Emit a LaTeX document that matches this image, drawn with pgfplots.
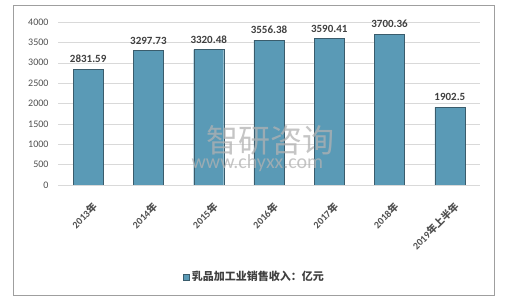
\documentclass[border=0pt]{standalone}
\usepackage{pgfplots}
\pgfplotsset{compat=1.18}
\usepackage{fontspec}
\setmainfont{Carlito}
\newfontfamily\cjk{Noto Sans CJK SC}
\definecolor{barA}{RGB}{90,154,182}
\definecolor{barE}{RGB}{58,92,108}
\definecolor{txt}{RGB}{64,64,64}
\definecolor{tick}{RGB}{80,80,80}
\begin{document}
\begin{tikzpicture}
\useasboundingbox (0pt,0pt) rectangle (520pt,302pt);
\fill[white] (0pt,0pt) rectangle (520pt,302pt);
\draw[gray!75!black!60, line width=1pt] (13pt,6pt) rectangle (494pt,296pt);
\begin{axis}[
  at={(58pt,117pt)}, anchor=south west,
  scale only axis, width=422pt, height=163pt,
  ymin=0, ymax=4000, ytick={0,500,...,4000},
  xmin=-0.5, xmax=6.5,
  xtick={0,1,2,3,4,5,6},
  xticklabels={2013{\cjk 年},2014{\cjk 年},2015{\cjk 年},2016{\cjk 年},2017{\cjk 年},2018{\cjk 年},2019{\cjk 年上半年}},
  x tick label style={rotate=45, anchor=north east, font=\bfseries\fontsize{10}{10}\selectfont, text=tick, inner sep=1pt, yshift=-13pt, xshift=-8pt},
  y tick label style={font=\fontsize{10}{10}\selectfont, text=tick, xshift=-6pt},
  /pgf/number format/assume math mode=true,
  /pgf/number format/1000 sep={},
  ymajorgrids, grid style={gray!30},
  axis lines=left, axis line style={draw=none},
  major tick length=0pt,
  ytick style={draw=none}, xtick style={draw=none},
  legend style={at={(0.466,-0.564)}, anchor=center, draw=none, fill=none, font=\cjk\bfseries\fontsize{11}{11}\selectfont, text=txt},
  legend image code/.code={\draw[fill=barA, draw=barE] (0pt,-3pt) rectangle (6pt,3pt);},
  nodes near coords, point meta=explicit symbolic,
  every node near coord/.append style={font=\bfseries\fontsize{11}{11}\selectfont, text=txt, yshift=3pt},
]
\addplot[ybar, bar width=30pt, draw=barE, fill=barA] table[meta=lab] {
x y lab
0 2831.59 2831.59
1 3297.73 3297.73
2 3320.48 3320.48
3 3556.38 3556.38
4 3590.41 3590.41
5 3700.36 3700.36
6 1902.5 1902.5
};
\addlegendentry{乳品加工业销售收入：亿元}
\end{axis}
\node[text=gray!60, font=\cjk\fontsize{32}{32}\selectfont, anchor=west, opacity=0.75] at (203pt,162pt) {智研咨询};
\node[text=gray!60, font=\fontsize{20}{20}\selectfont, anchor=west, opacity=0.75] at (188pt,139pt) {www.chyxx.com};
\end{tikzpicture}
\end{document}
